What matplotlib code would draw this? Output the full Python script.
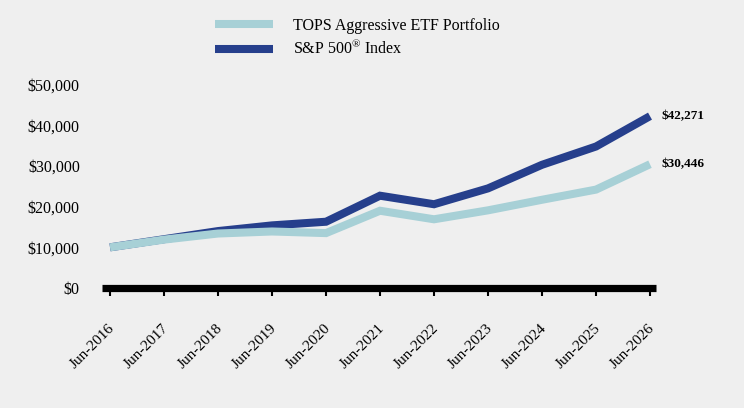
import matplotlib
matplotlib.use('Agg')
import matplotlib.pyplot as plt
import matplotlib.transforms as mtransforms
from matplotlib.ticker import FuncFormatter

# 数据
years = ['Jun-2016', 'Jun-2017', 'Jun-2018', 'Jun-2019', 'Jun-2020', 'Jun-2021',
         'Jun-2022', 'Jun-2023', 'Jun-2024', 'Jun-2025', 'Jun-2026']
tops = [10000, 11900, 13400, 13900, 13500, 19000, 16900, 19100, 21700, 24200, 30446]
sp500 = [10000, 12000, 14000, 15400, 16300, 22700, 20600, 24500, 30300, 34800, 42271]
y_ticks = [0, 10000, 20000, 30000, 40000, 50000]

BG = '#efefef'
LIGHT = '#a7d0d6'
DARK = '#263f8c'

plt.rcParams['font.family'] = ['Liberation Serif', 'DejaVu Serif']
plt.rcParams['mathtext.fontset'] = 'custom'
plt.rcParams['mathtext.rm'] = 'Liberation Serif'

fig = plt.figure(figsize=(7.44, 4.08), dpi=100, facecolor=BG)
ax = fig.add_axes([102 / 744, 1 - 288 / 408, (656 - 102) / 744, (288 - 84.7) / 408])
ax.set_facecolor(BG)

x = list(range(len(years)))
ax.plot(x, tops, color=LIGHT, lw=5.8, solid_joinstyle='miter', solid_capstyle='butt',
        label='TOPS Aggressive ETF Portfolio', zorder=3)
ax.plot(x, sp500, color=DARK, lw=5.8, solid_joinstyle='miter', solid_capstyle='butt',
        label='S&P 500$^{\\mathrm{®}}$ Index', zorder=2)

# 末端数值标注
for vals in (sp500, tops):
    ax.text(x[-1] + 0.22, vals[-1], f'${vals[-1]:,}', fontsize=9.5, fontweight='bold',
            ha='left', va='center')

ax.set_xlim(-8 / 54, 10 + 6 / 54)
ax.set_ylim(0, 50000)
ax.set_yticks(y_ticks)
ax.yaxis.set_major_formatter(FuncFormatter(lambda v, p: f'${v:,.0f}'))
ax.set_xticks(x)
ax.set_xticklabels(years, rotation=45, ha='right')

for s in ('top', 'right', 'left'):
    ax.spines[s].set_visible(False)
ax.spines['bottom'].set_linewidth(5.2)
ax.spines['bottom'].set_color('black')
ax.spines['bottom'].set_capstyle('butt')
ax.spines['bottom'].set_zorder(4)

ax.tick_params(axis='y', length=0, pad=16, labelsize=11.5)
ax.tick_params(axis='x', length=5.5, width=1.5, pad=19, labelsize=11)

offset = mtransforms.ScaledTranslation(7 / 100, 0, fig.dpi_scale_trans)
for lab in ax.get_xticklabels():
    lab.set_transform(lab.get_transform() + offset)

leg = ax.legend(loc='upper left', bbox_to_anchor=(215 / 744, 1 - 18 / 408), bbox_transform=fig.transFigure,
                frameon=False, fontsize=11.5, handlelength=3.6, handletextpad=1.3,
                labelspacing=0.35, borderpad=0, borderaxespad=0)
for h in leg.get_lines():
    h.set_solid_capstyle('butt')

fig.savefig('out.png', dpi=100, facecolor=BG)
